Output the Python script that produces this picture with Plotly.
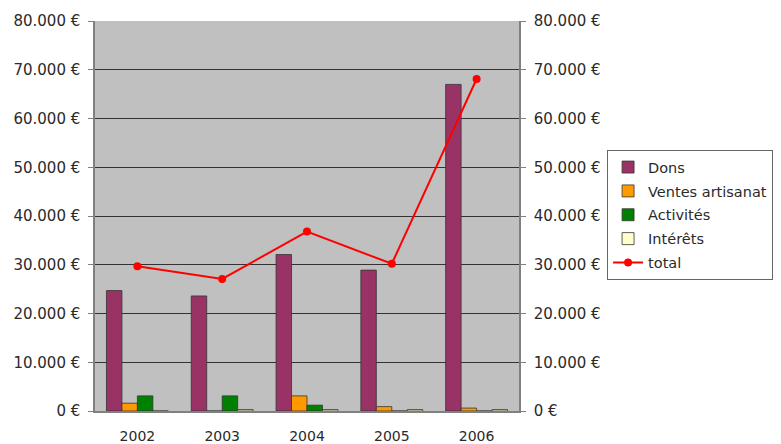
import plotly.graph_objects as go

years = ["2002", "2003", "2004", "2005", "2006"]
dons = [24700, 23600, 32100, 28900, 67000]
ventes = [1600, 0, 3100, 900, 600]
activites = [3100, 3100, 1200, 0, 0]
interets = [0, 300, 300, 300, 300]
total = [29700, 27100, 36800, 30200, 68100]

tick_vals = [0, 10000, 20000, 30000, 40000, 50000, 60000, 70000, 80000]
tick_text = ["0 €", "10.000 €", "20.000 €", "30.000 €", "40.000 €",
             "50.000 €", "60.000 €", "70.000 €", "80.000 €"]

FONT = "DejaVu Sans, Verdana, sans-serif"
edge = dict(color="#333333", width=0.8)
fig = go.Figure()
fig.add_bar(x=years, y=dons, name="Dons", legendgroup="a",
            marker=dict(color="#993366", line=edge))
fig.add_bar(x=years, y=ventes, name="Ventes artisanat", legendgroup="b",
            marker=dict(color="#FF9900", line=edge))
fig.add_bar(x=years, y=activites, name="Activités", legendgroup="c",
            marker=dict(color="#008000", line=edge))
fig.add_bar(x=years, y=interets, name="Intérêts", legendgroup="d",
            marker=dict(color="#FFFFCC", line=edge))
fig.add_scatter(x=years, y=total, name="total", mode="lines+markers", legendgroup="e",
                line=dict(color="#FF0000", width=2),
                marker=dict(color="#FF0000", size=8), yaxis="y2")

axis_common = dict(range=[0, 80000], tickvals=tick_vals, ticktext=tick_text,
                   ticks="outside", ticklen=5, tickcolor="#808080",
                   ticklabelstandoff=5, automargin=False,
                   showline=True, linecolor="#808080", linewidth=1.5,
                   tickfont=dict(family=FONT, size=15, color="#2a2a2a"),
                   zeroline=False)

fig.update_layout(
    width=773, height=436,
    margin=dict(l=87, r=262, t=13, b=33),
    paper_bgcolor="white", plot_bgcolor="#C0C0C0",
    barmode="group", bargap=0.27, bargroupgap=0,
    font=dict(family=FONT, size=14, color="#2a2a2a"),
    xaxis=dict(showline=True, linecolor="#808080", linewidth=1.5, automargin=False,
               ticks="outside", ticklen=11, tickcolor="rgba(0,0,0,0)",
               tickfont=dict(family=FONT, size=14, color="#2a2a2a"), showgrid=False),
    yaxis=dict(showgrid=True, gridcolor="#333333", gridwidth=1, **axis_common),
    yaxis2=dict(overlaying="y", side="right", showgrid=False, **axis_common),
    legend=dict(xref="container", yref="container", x=0.775, y=0.674,
                xanchor="left", yanchor="top",
                bgcolor="white", bordercolor="#666", borderwidth=1,
                font=dict(family=FONT, size=14.5, color="#2a2a2a"), tracegroupgap=2,
                itemwidth=30),
    showlegend=True,
)

fig.write_html("out.html")
